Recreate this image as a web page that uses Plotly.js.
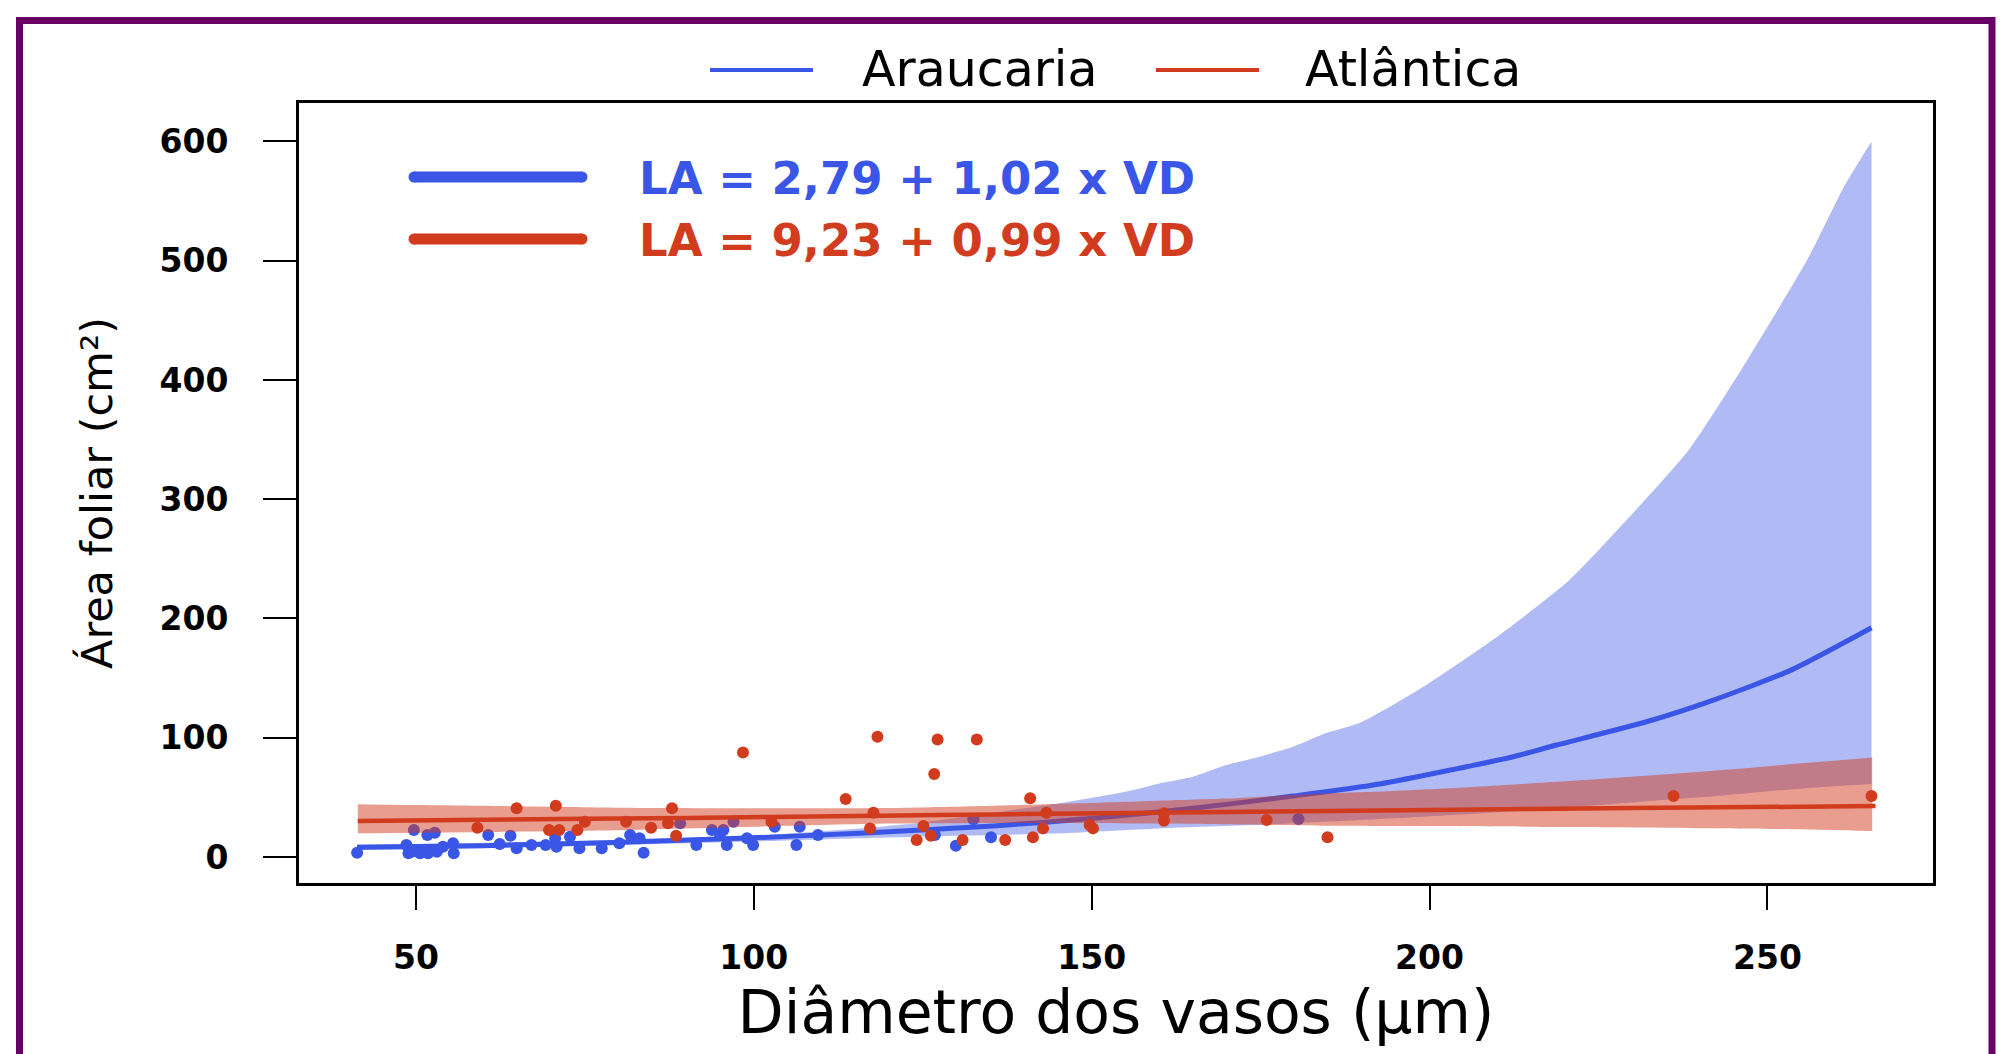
<!DOCTYPE html>
<html>
<head>
<meta charset="utf-8">
<script src="https://cdn.plot.ly/plotly-3.0.1.min.js"></script>
<style>
html,body{margin:0;padding:0;background:#fff;}
#chart{width:2014px;height:1054px;}
</style>
</head>
<body>
<div id="chart"></div>
<script>
// ---- Data ----
const seriesNames = ['Araucaria', 'Atlântica'];
const equations = ['LA = 2,79 + 1,02 x VD', 'LA = 9,23 + 0,99 x VD'];
const xTicks = [50, 100, 150, 200, 250];
const yTicks = [0, 100, 200, 300, 400, 500, 600];

// Observed points – Araucaria (blue)
const araucariaX = [41.3, 48.6, 48.9, 49.4, 49.7, 50.6, 51.7, 51.8, 52.8, 53.1, 54.0, 55.5, 55.6, 60.7, 62.4, 64.0, 64.9, 67.1, 69.2, 70.6, 70.8, 72.8, 74.2, 77.5, 80.1, 81.7, 83.1, 83.7, 89.1, 91.5, 93.8, 95.0, 95.5, 96.0, 97.0, 99.0, 99.9, 103.1, 106.3, 106.8, 109.5, 126.8, 129.9, 132.5, 135.1, 180.6];
const araucariaY = [3.6, 10.1, 3.1, 4.4, 22.6, 3.1, 18.4, 3.1, 20.4, 4.4, 8.6, 11.5, 3.1, 18.4, 10.9, 17.9, 7.3, 10.1, 10.1, 15.7, 8.6, 17.0, 7.3, 7.3, 11.5, 18.4, 15.7, 3.6, 28.2, 10.1, 22.6, 18.4, 22.6, 10.1, 29.6, 15.7, 10.1, 25.4, 10.1, 25.4, 18.4, 18.4, 9.5, 31.6, 16.5, 31.8];

// Observed points – Atlântica (red)
const atlanticaX = [59.1, 64.9, 69.7, 71.2, 70.7, 73.9, 75.0, 81.1, 84.8, 87.3, 87.9, 88.5, 98.4, 102.6, 113.6, 117.2, 117.7, 118.3, 124.1, 125.1, 126.2, 126.7, 127.2, 130.9, 133.0, 137.2, 140.9, 141.3, 142.8, 143.3, 149.7, 150.2, 160.7, 160.7, 175.9, 184.9, 236.1, 265.4];
const atlanticaY = [24.6, 40.8, 22.6, 22.6, 43.0, 22.6, 29.6, 29.6, 24.6, 28.2, 40.8, 17.9, 87.7, 29.6, 48.6, 24.0, 37.1, 100.8, 14.2, 26.0, 17.9, 69.6, 98.6, 14.2, 98.6, 14.2, 49.2, 16.5, 24.0, 37.1, 26.8, 24.0, 36.6, 30.4, 31.0, 16.5, 51.1, 51.1];

// Fitted curve and confidence band – Araucaria
const araucariaFitX = [41.3, 60, 78.2, 97.9, 115.7, 135.4, 150.2, 165.0, 179.8, 192.6, 212.4, 218.8, 232.1, 242.0, 253.5, 265.4];
const araucariaFitY = [8.1, 9.5, 12.0, 15.7, 19.9, 26.0, 32.4, 40.8, 51.1, 61.2, 84.1, 93.9, 113.4, 131.6, 156.7, 192.2];
const araucariaLowX = [41.3, 60, 78, 100, 115.7, 130, 145.3, 160, 175, 192.6, 205.2, 227.2, 232.1, 241.0, 249.9, 258.8, 265.4];
const araucariaLowY = [5.8, 7.5, 9.8, 13.0, 15.7, 17.8, 19.9, 24.0, 27.0, 31.8, 35.8, 44.4, 46.7, 50.5, 55.0, 58.9, 61.2];
const araucariaHighX = [41.3, 60, 78, 100, 115.7, 125, 135.4, 146.6, 155, 160, 165, 169.9, 174.8, 179.8, 184.5, 189.7, 198.5, 210.0, 220.7, 229.6, 238.4, 247.3, 256.2, 261.5, 265.4];
const araucariaHighY = [10.5, 12, 14, 18, 24, 29, 37, 46.4, 54.7, 61.7, 67.3, 77.1, 84.1, 92.4, 103.5, 112.5, 140.6, 184.7, 232.3, 285.2, 341.7, 419.3, 503.9, 563.8, 600];

// Fitted curve and confidence band – Atlântica
const atlanticaFitX = [41.4, 60, 90, 115, 140, 170, 200, 230, 266];
const atlanticaFitY = [30.2, 31.2, 32.8, 34.4, 36.0, 37.8, 39.5, 41.0, 42.7];
const atlanticaLowX = [41.4, 60, 80, 100, 120, 140, 160, 185, 200, 220, 240, 255, 265.5];
const atlanticaLowY = [19.9, 21.0, 22.5, 25.4, 28.0, 28.5, 28.0, 26.2, 26.0, 25.2, 24.2, 23.3, 21.8];
const atlanticaHighX = [41.4, 50, 65, 80, 100, 120, 134, 148, 159, 170, 177, 186, 194, 202.8, 214.3, 225.2, 236.2, 245.7, 254.6, 265.5];
const atlanticaHighY = [44.2, 43.5, 42.5, 41.3, 40.8, 41.0, 42.7, 45.0, 47.0, 49.0, 51.1, 53.6, 55.2, 57.6, 61.5, 65.5, 69.8, 74.0, 78.3, 83.5];

// ---- Styling ----
const BLUE = '#3A56E6';
const RED = '#D23C1E';
const BLUE_BAND = 'rgba(58,86,230,0.40)';
const RED_BAND = 'rgba(210,60,30,0.50)';
const PURPLE = '#680066';
const SMOOTH = {shape: 'spline', smoothing: 0.6};

const traces = [
  {x: araucariaLowX, y: araucariaLowY, type: 'scatter', mode: 'lines', line: Object.assign({width: 0, color: BLUE_BAND}, SMOOTH), hoverinfo: 'skip', showlegend: false},
  {x: araucariaHighX, y: araucariaHighY, type: 'scatter', mode: 'lines', fill: 'tonexty', fillcolor: BLUE_BAND, line: Object.assign({width: 0, color: BLUE_BAND}, SMOOTH), hoverinfo: 'skip', showlegend: false},
  {x: araucariaFitX, y: araucariaFitY, type: 'scatter', mode: 'lines', name: seriesNames[0], line: Object.assign({color: BLUE, width: 5}, SMOOTH), showlegend: false},
  {x: araucariaX, y: araucariaY, type: 'scatter', mode: 'markers', name: seriesNames[0], marker: {color: BLUE, size: 12}, showlegend: false},
  {x: atlanticaLowX, y: atlanticaLowY, type: 'scatter', mode: 'lines', line: Object.assign({width: 0, color: RED_BAND}, SMOOTH), hoverinfo: 'skip', showlegend: false},
  {x: atlanticaHighX, y: atlanticaHighY, type: 'scatter', mode: 'lines', fill: 'tonexty', fillcolor: RED_BAND, line: Object.assign({width: 0, color: RED_BAND}, SMOOTH), hoverinfo: 'skip', showlegend: false},
  {x: atlanticaFitX, y: atlanticaFitY, type: 'scatter', mode: 'lines', name: seriesNames[1], line: Object.assign({color: RED, width: 4.5}, SMOOTH), showlegend: false},
  {x: atlanticaX, y: atlanticaY, type: 'scatter', mode: 'markers', name: seriesNames[1], marker: {color: RED, size: 12}, showlegend: false}
];

// plot area in pixels: left 299, right 1933, top 103, bottom 883
const L = 299, R = 1933, T = 103, B = 883;
const W = R - L, H = B - T;
const px = X => (X - L) / W;
const py = Y => (B - Y) / H;

const shapes = [
  // purple frame
  {type: 'rect', xref: 'paper', yref: 'paper', x0: px(19.5), x1: px(1992), y0: py(1090), y1: py(20.5), line: {color: PURPLE, width: 7}, fillcolor: 'rgba(0,0,0,0)', layer: 'below'},
  // top legend keys
  {type: 'line', xref: 'paper', yref: 'paper', x0: px(710), x1: px(813), y0: py(70), y1: py(70), line: {color: BLUE, width: 4}},
  {type: 'line', xref: 'paper', yref: 'paper', x0: px(1156), x1: px(1259), y0: py(70), y1: py(70), line: {color: RED, width: 4}},
  // equation keys
  {type: 'line', xref: 'paper', yref: 'paper', x0: px(414), x1: px(582), y0: py(177), y1: py(177), line: {color: BLUE, width: 11}},
  {type: 'line', xref: 'paper', yref: 'paper', x0: px(414), x1: px(582), y0: py(239), y1: py(239), line: {color: RED, width: 11}}
];
// round caps for equation keys
[[177, BLUE], [239, RED]].forEach(([yy, c]) => {
  [414, 582].forEach(xx => {
    shapes.push({type: 'circle', xref: 'paper', yref: 'paper', xsizemode: 'pixel', ysizemode: 'pixel',
      xanchor: px(xx), yanchor: py(yy), x0: -5.5, x1: 5.5, y0: -5.5, y1: 5.5,
      fillcolor: c, line: {width: 0}});
  });
});

const annotations = [
  {xref: 'paper', yref: 'paper', x: px(860), y: py(70), xanchor: 'left', yanchor: 'middle', showarrow: false,
   text: seriesNames[0], font: {family: 'DejaVu Sans', size: 49, color: '#000'}},
  {xref: 'paper', yref: 'paper', x: px(1303), y: py(70), xanchor: 'left', yanchor: 'middle', showarrow: false,
   text: seriesNames[1], font: {family: 'DejaVu Sans', size: 49, color: '#000'}},
  {xref: 'paper', yref: 'paper', x: px(637), y: py(178), xanchor: 'left', yanchor: 'middle', showarrow: false,
   text: equations[0], font: {family: 'DejaVu Sans', size: 45, color: BLUE, weight: 'bold'}},
  {xref: 'paper', yref: 'paper', x: px(637), y: py(240), xanchor: 'left', yanchor: 'middle', showarrow: false,
   text: equations[1], font: {family: 'DejaVu Sans', size: 45, color: RED, weight: 'bold'}}
];

const layout = {
  width: 2014, height: 1054,
  margin: {l: L, r: 2014 - R, t: T, b: 1054 - B, pad: 0},
  paper_bgcolor: '#fff', plot_bgcolor: '#fff',
  showlegend: false,
  xaxis: {
    range: [32.7, 274.5], tickvals: xTicks, ticktext: xTicks.map(String),
    ticks: 'outside', ticklen: 24, tickwidth: 2, tickcolor: '#000',
    showline: true, linewidth: 3, linecolor: '#000', mirror: true,
    showgrid: false, zeroline: false, automargin: false,
    ticklabelstandoff: 19,
    tickfont: {family: 'DejaVu Sans', size: 33, color: '#000', weight: 'bold'},
    title: {text: 'Diâmetro dos vasos (µm)', font: {family: 'DejaVu Sans', size: 60, color: '#000'}, standoff: 12}
  },
  yaxis: {
    range: [-21.8, 632.2], tickvals: yTicks, ticktext: yTicks.map(String),
    ticks: 'outside', ticklen: 33, tickwidth: 2, tickcolor: '#000',
    showline: true, linewidth: 3, linecolor: '#000', mirror: true,
    showgrid: false, zeroline: false, automargin: false,
    ticklabelstandoff: 28,
    tickfont: {family: 'DejaVu Sans', size: 33, color: '#000', weight: 'bold'},
    title: {text: 'Área foliar (cm²)', font: {family: 'DejaVu Sans', size: 43, color: '#000'}, standoff: 34}
  },
  shapes: shapes,
  annotations: annotations
};

Plotly.newPlot('chart', traces, layout, {displayModeBar: false, staticPlot: true});
</script>
</body>
</html>
